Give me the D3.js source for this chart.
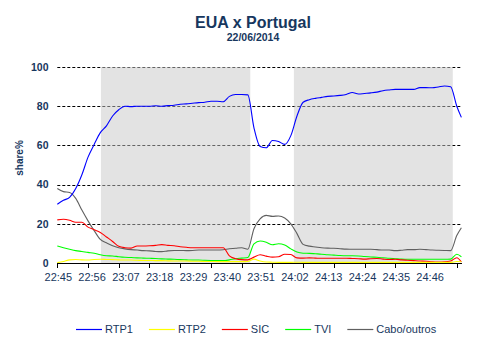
<!DOCTYPE html>
<html>
<head>
<meta charset="utf-8">
<script src="https://cdn.jsdelivr.net/npm/d3@7"></script>
<style>
  html, body { margin: 0; padding: 0; background: #fff; }
  svg { display: block; font-family: "Liberation Sans", Arial, sans-serif; }
</style>
</head>
<body>
<svg id="chart" width="480" height="345"></svg>
<script>
// ---- data (minutes after 22:45) ----
const minutes = [0,2,4,6,8,10,12,14,16,18,20,22,24,26,28,30,32,34,36,38,40,42,44,46,48,50,52,54,56,58,60,62,64,66,68,70,72,74,76,78,80,82,84,86,88,90,92,94,96,98,100,102,104,106,108,110,112,114,116,118,120,122,124,126,128,130,131.5];
const rtp1 = [30,32,33.5,38,45,54,60.5,66.5,70,75, 78.2,80,79.8,80,80,80,80.2,80,80.3,80.5, 81,81.2,81.5,81.8,82,82.5,82.5,82.3,85,86, 86,85.8,69,59.5,58.8,62.5,62,60.5,65,75, 82,83.3,84,84.5,85,85.2,85.5,86,87,86.2, 86.5,86.8,87.2,87.9,88.3,88.6,88.6,88.6,88.6,89.5, 89.5,89.4,89.8,90.3,89.9,80,74.3];
const rtp2 = [0.2,0.8,1.6,1.8,1.6,1.5,1.8,1.9,1.8,1.7, 1.6,1.5,1.5,1.4,1.3,1.3,1.2,1.2,1.1,1, 1,1,0.9,0.9,0.8,0.8,0.7,0.7,0.7,0.7, 0.7,0.8,2,1,0.5,0.4,0.3,0.3,0.3,0.4, 0.3,0.3,0.3,0.3,0.3,0.3,0.3,0.3,0.3,0.3, 0.3,0.3,0.3,0.3,0.3,0.3,0.3,0.3,0.3,0.3, 0.3,0.3,0.3,0.3,0.3,0.8,0.6];
const sic = [22,22.3,21.8,20.8,20.8,18.3,17,15.6,13.3,11, 8.5,7.8,7.6,8.7,8.7,8.8,9,9.4,9,8.8, 8.3,8,7.8,7.8,7.8,7.8,7.8,7.8,3.6,2.2, 1.7,1.6,3,4.2,3.5,3,3.2,4.5,4.3,2.6, 2.5,2.6,2.5,2.4,2.4,2.4,2.4,2.4,2.3,2.2, 2,2.2,2.3,2,1.8,1.9,1.6,1.4,1.2,1, 0.9,0.6,0.5,0.6,1,2.7,0.5];
const tvi = [8.7,7.8,7,6.3,5.9,5.4,5,4.2,3.7,3.6, 3.2,2.9,2.8,2.6,2.5,2.4,2.3,2.1,2,1.9, 1.7,1.6,1.5,1.5,1.4,1.3,1.2,1.2,1.6,2.2, 2.5,2.8,9.8,11.2,10.6,9.3,9.8,9.2,7.2,5.6, 5,4.9,4.7,4.5,4.2,4,3.8,3.7,3.7,3.6, 3.3,3.1,2.9,2.7,2.4,2.2,2,1.9,1.9,1.9, 1.9,1.9,1.9,1.9,2,4.5,3.2];
const cabo = [38,36.4,36,33,27,21.5,16.5,12,10.3,8.8, 7.8,7.2,6.8,6.6,6.3,6.2,5.9,5.8,6.2,6.4, 6.4,6.3,6.4,6.6,6.6,6.6,6.6,6.8,7.3,7.5, 7.8,7.0,17.5,22.5,24.3,23.8,24,23,20,15, 9.5,8.6,8.2,7.8,7.6,7.5,7.3,7.1,7,7, 7,7,6.8,6.6,6.6,6.3,6.5,6.8,6.8,7, 6.8,6.6,6.5,6.4,6.3,14,18];
const seriesNames = ["RTP1","RTP2","SIC","TVI","Cabo/outros"];
const seriesColors = ["#0000ff","#ffff00","#ff0000","#00ff00","#606060"];
const halfStart = [14.2, 77];   // match halves (minutes after 22:45)
const halfEnd = [62.8, 128.7];
const xTickLabels = ["22:45","22:56","23:07","23:18","23:29","23:40","23:51","24:02","24:13","24:24","24:35","24:46"];
const xLabelMinutes = [0,11,22,33,44,55,66,77,88,99,110,121];
const xTickMarks = [0,10,20,30,40,50,60,70,80,90,100,110,120,130];
const yTicks = [0,20,40,60,80,100];

const textColor = "#17375e";
const svg = d3.select("#chart");
const x = d3.scaleLinear().domain([0, 131.7]).range([57.3, 462]);
const y = d3.scaleLinear().domain([0, 100]).range([263, 67]);

// title
svg.append("text").attr("x", 253).attr("y", 27.5).attr("text-anchor", "middle")
  .attr("font-size", 16).attr("font-weight", "bold").attr("fill", textColor).text("EUA x Portugal");
svg.append("text").attr("x", 253).attr("y", 40.5).attr("text-anchor", "middle")
  .attr("font-size", 10.5).attr("font-weight", "bold").attr("fill", textColor).text("22/06/2014");

// gridlines
svg.append("g").selectAll("line").data(yTicks.filter(d => d > 0)).join("line")
  .attr("x1", x.range()[0]).attr("x2", x.range()[1])
  .attr("y1", d => Math.round(y(d)) + 0.5).attr("y2", d => Math.round(y(d)) + 0.5)
  .attr("stroke", "#000").attr("stroke-width", 1).attr("stroke-dasharray", "3,2");

// halves bands (semi-transparent over gridlines)
svg.append("g").selectAll("rect").data(halfStart).join("rect")
  .attr("x", (d) => x(d))
  .attr("width", (d, i) => x(halfEnd[i]) - x(d))
  .attr("y", y(100)).attr("height", y(0) - y(100))
  .attr("fill", "#c8c8c8").attr("fill-opacity", 0.5);

// y labels
svg.append("g").selectAll("text").data(yTicks).join("text")
  .attr("x", 48.5).attr("y", d => y(d)).attr("dy", "0.36em")
  .attr("text-anchor", "end").attr("font-size", 10.5).attr("font-weight", "bold")
  .attr("fill", textColor).text(d => d);
svg.append("text").attr("transform", "translate(23,158) rotate(-90)")
  .attr("text-anchor", "middle").attr("font-size", 10).attr("font-weight", "bold")
  .attr("fill", textColor).text("share%");

// lines
const allSeries = [rtp1, rtp2, sic, tvi, cabo];
const line = d3.line().x((d, i) => x(minutes[i])).y(d => y(d)).curve(d3.curveMonotoneX);
const drawOrder = [4, 3, 2, 1, 0];
svg.append("g").selectAll("path").data(drawOrder).join("path")
  .attr("d", k => line(allSeries[k]))
  .attr("fill", "none").attr("stroke", k => seriesColors[k]).attr("stroke-width", 1.1);

// x axis
svg.append("line").attr("x1", x.range()[0]).attr("x2", x.range()[1])
  .attr("y1", 263.5).attr("y2", 263.5).attr("stroke", "#000").attr("stroke-width", 1);
svg.append("g").selectAll("line").data(xTickMarks).join("line")
  .attr("x1", d => Math.round(x(d)) + 0.5).attr("x2", d => Math.round(x(d)) + 0.5)
  .attr("y1", 263).attr("y2", 268).attr("stroke", "#000");
svg.append("g").selectAll("text").data(xTickLabels).join("text")
  .attr("x", (d, i) => x(xLabelMinutes[i]) + 1).attr("y", 280.5)
  .attr("text-anchor", "middle").attr("font-size", 11).attr("fill", textColor).text(d => d);

// legend
let lx = 76;
const ly = 329;
seriesNames.forEach((name, i) => {
  svg.append("line").attr("x1", lx).attr("x2", lx + 26).attr("y1", ly + 0.5).attr("y2", ly + 0.5)
    .attr("stroke", seriesColors[i]).attr("stroke-width", 1.2);
  const t = svg.append("text").attr("x", lx + 29).attr("y", ly).attr("dy", "0.36em")
    .attr("font-size", 11).attr("fill", textColor).text(name);
  lx += 29 + t.node().getComputedTextLength() + 16;
});
</script>
</body>
</html>
